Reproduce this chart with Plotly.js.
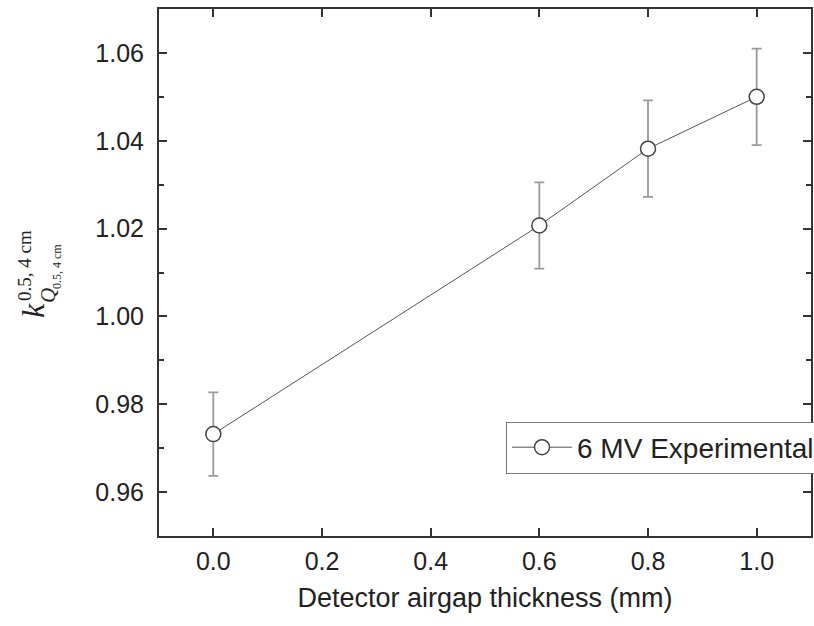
<!DOCTYPE html>
<html>
<head>
<meta charset="utf-8">
<script src="https://cdn.plot.ly/plotly-3.0.1.min.js"></script>
<style>html,body{margin:0;padding:0;background:#fff;}#chart{width:814px;height:626px;}</style>
</head>
<body>
<div id="chart"></div>
<script>
// Data
var airgap = [0.0, 0.6, 0.8, 1.0];
var kQ = [0.9732, 1.0207, 1.0382, 1.0500];
var kQErr = [0.0095, 0.0098, 0.0110, 0.0110];
var seriesName = '6 MV Experimental';
var xTickVals = [0.0, 0.2, 0.4, 0.6, 0.8, 1.0];
var xTickText = ['0.0', '0.2', '0.4', '0.6', '0.8', '1.0'];
var yTickVals = [0.96, 0.98, 1.00, 1.02, 1.04, 1.06];
var yTickText = ['0.96', '0.98', '1.00', '1.02', '1.04', '1.06'];

var W = 814, H = 626, L = 159, R = 3, T = 9, B = 90;
var pw = W - L - R, ph = H - T - B;
function px(x) { return (x - L) / pw; }
function py(y) { return (H - B - y) / ph; }

var trace = {
  x: airgap, y: kQ, name: seriesName,
  type: 'scatter', mode: 'lines+markers',
  line: {color: '#555', width: 1},
  marker: {symbol: 'circle', size: 15, color: '#fff', line: {color: '#444', width: 1.5}},
  error_y: {type: 'data', array: kQErr, visible: true, color: '#9a9a9a', thickness: 1.8, width: 5},
  showlegend: true
};

var serif = 'Liberation Serif, Times New Roman, serif';
var axisCommon = {
  showline: true, linecolor: '#333', linewidth: 2, mirror: 'ticks',
  ticks: 'inside', ticklen: 8, tickwidth: 2, tickcolor: '#333',
  showgrid: false, zeroline: false,
  tickfont: {family: 'Liberation Sans, Arial, sans-serif', size: 25, color: '#222'}
};

var layout = {
  width: W, height: H,
  margin: {l: L, r: R, t: T, b: B, autoexpand: false},
  paper_bgcolor: '#fff', plot_bgcolor: '#fff',
  font: {family: 'Liberation Sans, Arial, sans-serif', color: '#222'},
  xaxis: Object.assign({}, axisCommon, {
    range: [-0.1, 1.1], tickmode: 'array', tickvals: xTickVals, ticktext: xTickText,
    ticklabelstandoff: 2, automargin: false,
    title: {text: 'Detector airgap thickness (mm)', font: {size: 27, color: '#222'}, standoff: 14}
  }),
  yaxis: Object.assign({}, axisCommon, {
    range: [0.95, 1.07], tickmode: 'array', tickvals: yTickVals, ticktext: yTickText,
    ticklabelstandoff: 8, automargin: false,
    minor: {dtick: 0.01, ticks: 'inside', ticklen: 5, tickwidth: 2, tickcolor: '#333', showgrid: false}
  }),
  showlegend: true,
  legend: {
    x: px(506), y: py(447.5), xanchor: 'left', yanchor: 'middle',
    bgcolor: '#fff', bordercolor: '#777', borderwidth: 1,
    font: {size: 28, color: '#222'}, itemwidth: 60, tracegroupgap: 0
  },
  annotations: [
    {text: '<i>k</i>', xref: 'paper', yref: 'paper', x: px(33), y: py(311), showarrow: false,
     textangle: -90, xanchor: 'center', yanchor: 'middle', font: {family: serif, size: 32, color: '#222'}},
    {text: '0.5, 4 cm', xref: 'paper', yref: 'paper', x: px(24), y: py(266), showarrow: false,
     textangle: -90, xanchor: 'center', yanchor: 'middle', font: {family: serif, size: 19, color: '#222'}},
    {text: '<i>Q</i>', xref: 'paper', yref: 'paper', x: px(48), y: py(296), showarrow: false,
     textangle: -90, xanchor: 'center', yanchor: 'middle', font: {family: serif, size: 21, color: '#222'}},
    {text: '0.5, 4 cm', xref: 'paper', yref: 'paper', x: px(57), y: py(266), showarrow: false,
     textangle: -90, xanchor: 'center', yanchor: 'middle', font: {family: serif, size: 12, color: '#222'}}
  ]
};

Plotly.newPlot('chart', [trace], layout, {displayModeBar: false, staticPlot: true});
</script>
</body>
</html>
